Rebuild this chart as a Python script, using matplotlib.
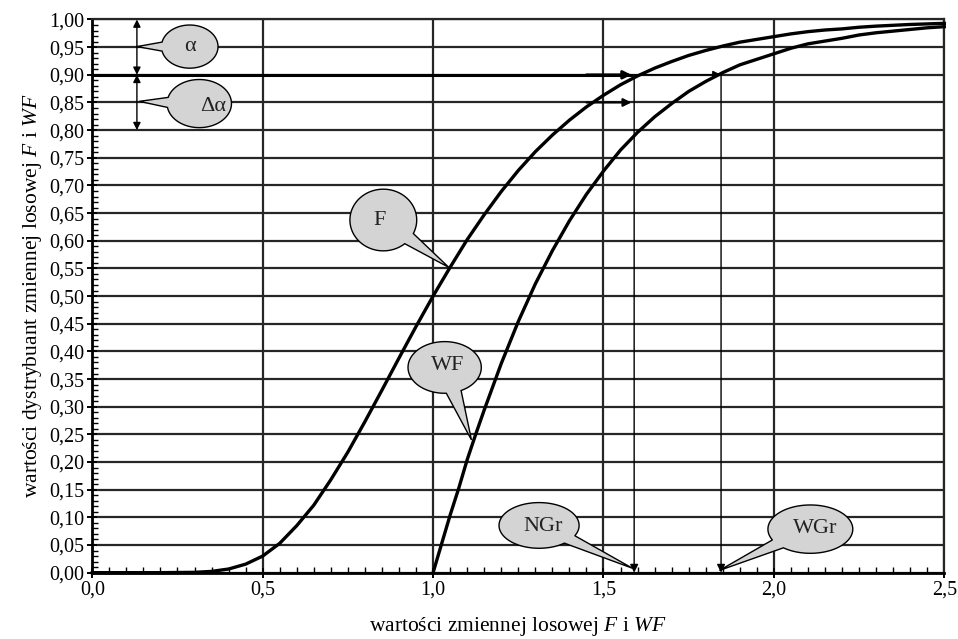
import numpy as np
import matplotlib
matplotlib.use("Agg")
import matplotlib.pyplot as plt
from matplotlib.patches import Polygon
from matplotlib.ticker import MultipleLocator, FuncFormatter

plt.rcParams["font.family"] = ["Liberation Serif", "DejaVu Serif"]
plt.rcParams["mathtext.fontset"] = "custom"
plt.rcParams["mathtext.rm"] = "Liberation Serif"
plt.rcParams["mathtext.it"] = "Liberation Serif:italic"

# distribution F
f_x = [0.0, 0.1, 0.2, 0.3, 0.35, 0.4, 0.45, 0.5, 0.55, 0.6, 0.65, 0.7, 0.75,
       0.8, 0.85, 0.9, 0.95, 1.0, 1.05, 1.1, 1.15, 1.2, 1.25, 1.3, 1.35, 1.4,
       1.45, 1.5, 1.55, 1.6, 1.65, 1.7, 1.75, 1.8, 1.85, 1.9, 1.95, 2.0, 2.05,
       2.1, 2.15, 2.2, 2.25, 2.3, 2.35, 2.4, 2.45, 2.5]
f_y = [0.0, 0.0, 0.0, 0.0006, 0.0023, 0.0066, 0.0154, 0.030, 0.053, 0.085,
       0.122, 0.168, 0.218, 0.273, 0.330, 0.388, 0.445, 0.500, 0.552, 0.602,
       0.647, 0.689, 0.727, 0.761, 0.791, 0.818, 0.842, 0.863, 0.882, 0.898,
       0.912, 0.924, 0.935, 0.944, 0.952, 0.959, 0.964, 0.969, 0.974, 0.978,
       0.981, 0.983, 0.986, 0.988, 0.9895, 0.991, 0.992, 0.993]

# distribution WF
wf_x = [1.0, 1.025, 1.05, 1.075, 1.1, 1.125, 1.15, 1.2, 1.25, 1.3, 1.35, 1.4,
        1.45, 1.5, 1.55, 1.6, 1.65, 1.7, 1.75, 1.8, 1.85, 1.9, 1.95, 2.0, 2.05,
        2.1, 2.15, 2.2, 2.25, 2.3, 2.35, 2.4, 2.45, 2.5]
wf_y = [0.0, 0.052, 0.104, 0.152, 0.204, 0.250, 0.294, 0.378, 0.454, 0.522,
        0.582, 0.636, 0.684, 0.726, 0.764, 0.796, 0.824, 0.848, 0.870, 0.888,
        0.904, 0.918, 0.928, 0.938, 0.948, 0.956, 0.961, 0.966, 0.972, 0.976,
        0.979, 0.982, 0.985, 0.987]

level = 0.90          # 1 - alpha
level_delta = 0.85    # 1 - alpha - delta alpha / 2
alpha_top = 1.00
alpha_low = 0.80
ngr = 1.59
wgr = 1.845

GRAY = "#d4d4d4"
LINE = "#262626"


def callout(ax, text, center, size, tip, text_pos=None, half=0.21):
    """Ellipse speech bubble whose tail points at tip (all in data units)."""
    cx, cy = center
    w, h = size
    ang = np.arctan2((tip[1] - cy) / (h / 2), (tip[0] - cx) / (w / 2))
    t = np.linspace(ang + half, ang + 2 * np.pi - half, 120)
    pts = np.column_stack([cx + w / 2 * np.cos(t), cy + h / 2 * np.sin(t)])
    pts = np.vstack([pts, tip])
    ax.add_patch(Polygon(pts, closed=True, facecolor=GRAY, edgecolor="black",
                         lw=1.0, zorder=6))
    tx, ty = text_pos if text_pos else center
    ax.text(tx, ty, text, ha="center", va="center", fontsize=16, zorder=7,
            color="#222222")


def arrow(ax, start, end, lw=1.0, both=False, scale=12):
    style = "<|-|>" if both else "-|>"
    ax.annotate("", xy=end, xytext=start,
                arrowprops=dict(arrowstyle=style, color="black", lw=lw,
                                mutation_scale=scale, shrinkA=0, shrinkB=0),
                zorder=5)


fig = plt.figure(figsize=(9.58, 6.39), dpi=100)
ax = fig.add_axes([0.0963, 0.1038, 0.8894, 0.8657])

ax.set_xlim(0, 2.5)
ax.set_ylim(0, 1.0)

ax.xaxis.set_major_locator(MultipleLocator(0.5))
ax.xaxis.set_minor_locator(MultipleLocator(0.05))
ax.yaxis.set_major_locator(MultipleLocator(0.05))
ax.yaxis.set_minor_locator(MultipleLocator(0.01))
ax.xaxis.set_major_formatter(FuncFormatter(lambda v, p: f"{v:.1f}".replace(".", ",")))
ax.yaxis.set_major_formatter(FuncFormatter(lambda v, p: f"{v:.2f}".replace(".", ",")))
ax.tick_params(which="major", direction="inout", length=7, width=1.4,
               labelsize=14.5, color="black", pad=2)
ax.tick_params(which="minor", direction="in", length=4, width=1.0, color="black")

ax.grid(True, which="major", color=LINE, lw=1.6)
ax.set_axisbelow(True)
for side in ["top", "right"]:
    ax.spines[side].set_color(LINE)
    ax.spines[side].set_linewidth(1.6)
for side in ["left", "bottom"]:
    ax.spines[side].set_color("black")
    ax.spines[side].set_linewidth(2.0)

ax.plot(f_x, f_y, color="black", lw=2.4, zorder=4, clip_on=False)
ax.plot(wf_x, wf_y, color="black", lw=2.4, zorder=4, clip_on=False)

# quantile construction
ax.plot([0, ngr - 0.01], [level, level], color="black", lw=2.2, zorder=4)
arrow(ax, (1.45, level), (ngr - 0.008, level), lw=2.0)
arrow(ax, (ngr, level), (wgr, level), lw=1.0)
arrow(ax, (1.45, level_delta), (ngr - 0.008, level_delta), lw=1.5)
arrow(ax, (ngr, level), (ngr, 0.0), lw=1.0)
arrow(ax, (wgr, level), (wgr, 0.0), lw=1.0)
arrow(ax, (0.131, alpha_top), (0.131, level), lw=1.0, both=True, scale=11)
arrow(ax, (0.131, level), (0.131, alpha_low), lw=1.0, both=True, scale=11)

callout(ax, "α", (0.286, 0.951), (0.166, 0.078), (0.131, 0.951))
callout(ax, "Δα", (0.314, 0.848), (0.189, 0.087), (0.138, 0.852),
        text_pos=(0.354, 0.843))
callout(ax, "F", (0.854, 0.6375), (0.196, 0.1115), (1.046, 0.552),
        text_pos=(0.842, 0.637))
callout(ax, "WF", (1.034, 0.371), (0.215, 0.0934), (1.1126, 0.240),
        text_pos=(1.044, 0.374))
callout(ax, "NGr", (1.311, 0.0854), (0.235, 0.0826), (ngr - 0.005, 0.008),
        text_pos=(1.323, 0.084))
callout(ax, "WGr", (2.107, 0.0787), (0.249, 0.0874), (wgr - 0.005, 0.004),
        text_pos=(2.122, 0.080))

ax.set_xlabel("wartości zmiennej losowej $\\mathit{F}$ i $\\mathit{WF}$",
              fontsize=15.5, labelpad=11)
ax.set_ylabel("wartości dystrybuant zmiennej losowej $\\mathit{F}$ i $\\mathit{WF}$",
              fontsize=15.5, labelpad=4)

fig.savefig("out.png", dpi=100)
